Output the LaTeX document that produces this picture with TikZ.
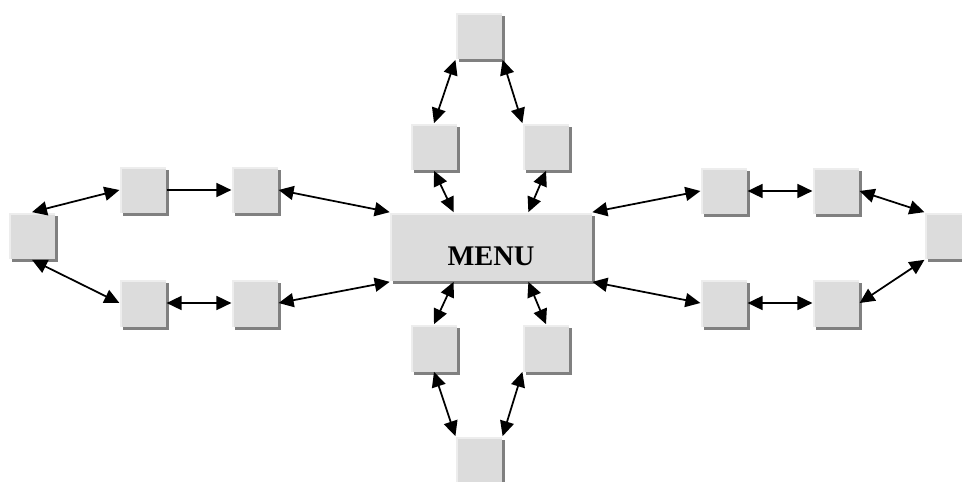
\documentclass[tikz,border=0pt]{standalone}
\usepackage{fontspec}
\setmainfont{Liberation Serif}
\usetikzlibrary{arrows.meta,shadows}
\definecolor{boxfill}{HTML}{DCDCDC}
\definecolor{boxlight}{HTML}{EDEDED}
\definecolor{boxshade}{HTML}{808080}
\begin{document}
\begin{tikzpicture}[x=0.02cm, y=0.02cm, >={Triangle[length=0.3cm, width=0.28cm]}]
				\tikzstyle{Box} = [rectangle, fill=boxfill, minimum width=0.93cm, minimum height=0.94cm, inner sep=0pt,
					drop shadow={shadow xshift=0.06cm, shadow yshift=-0.06cm, fill=boxshade, opacity=1},
					path picture={\fill[boxlight] (path picture bounding box.south west) rectangle ([xshift=1.2pt]path picture bounding box.north west);
						\fill[boxlight] ([yshift=-1.2pt]path picture bounding box.north west) rectangle (path picture bounding box.north east);}]
				\tikzstyle{Link} = [line width=1pt]
				\useasboundingbox (0,0) rectangle (962,481);
				% centre
				\node (menu) at (491,234) [Box, minimum width=4.04cm, minimum height=1.38cm] {};
				\node (menutext) at (491,225) [font=\fontsize{16.2}{19}\selectfont\bfseries] {MENU};
				% left branch
				\node (l0) at (32,245) [Box] {};
				\node (l1a) at (143,291) [Box] {};
				\node (l1b) at (255,291) [Box] {};
				\node (l2a) at (143,178) [Box] {};
				\node (l2b) at (255,178) [Box] {};
				% right branch
				\node (r1a) at (724,290) [Box] {};
				\node (r1b) at (836,290) [Box] {};
				\node (r2a) at (724,178) [Box] {};
				\node (r2b) at (836,178) [Box] {};
				\node (r0) at (948,245) [Box] {};
				% top branch
				\node (t0) at (479,445) [Box] {};
				\node (t1a) at (434,334) [Box] {};
				\node (t1b) at (546,334) [Box] {};
				% bottom branch
				\node (b1a) at (434,133) [Box] {};
				\node (b1b) at (546,133) [Box] {};
				\node (b0) at (479,21) [Box] {};
				% links
				\draw [Link, <->] (l0.north) to (l1a.west);
				\draw [Link, <->] (l0.south) to (l2a.west);
				\draw [Link, ->] (l1a.east) to (l1b.west);
				\draw [Link, <->] (l2a.east) to (l2b.west);
				\draw [Link, <->] (l1b.east) to (menu.north west);
				\draw [Link, <->] (l2b.east) to (menu.south west);
				\draw [Link, <->] (menu.north east) to (r1a.west);
				\draw [Link, <->] (menu.south east) to (r2a.west);
				\draw [Link, <->] (r1a.east) to (r1b.west);
				\draw [Link, <->] (r2a.east) to (r2b.west);
				\draw [Link, <->] (r1b.east) to (r0.north west);
				\draw [Link, <->] (r2b.east) to (r0.south west);
				\draw [Link, <->] (t0.south west) to (t1a.north);
				\draw [Link, <->] (t0.south east) to (t1b.north west);
				\draw [Link, <->] (t1a.south) to (menu.137);
				\draw [Link, <->] (t1b.south) to (menu.43);
				\draw [Link, <->] (menu.223) to (b1a.north);
				\draw [Link, <->] (menu.317) to (b1b.north);
				\draw [Link, <->] (b1a.south) to (b0.north west);
				\draw [Link, <->] (b1b.south west) to (b0.north east);
			\end{tikzpicture}
\end{document}
